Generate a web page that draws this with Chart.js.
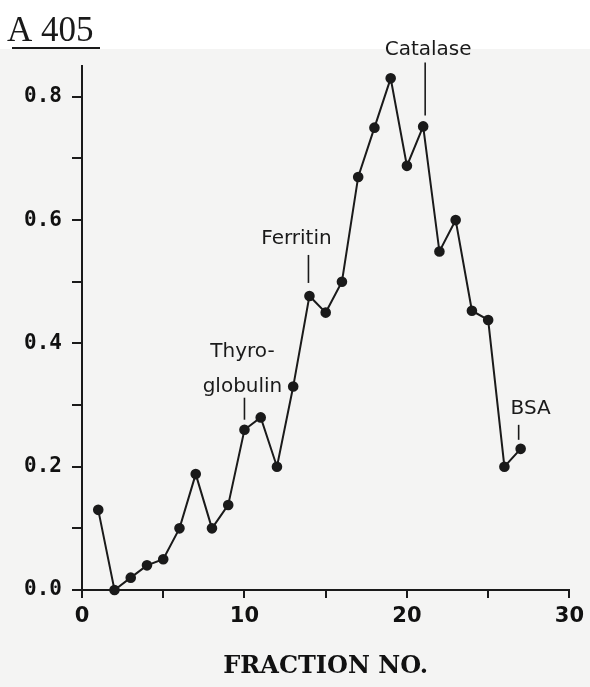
<!DOCTYPE html>
<html><head><meta charset="utf-8">
<script src="https://cdn.jsdelivr.net/npm/chart.js@4/dist/chart.umd.min.js"></script>
<style>html,body{margin:0;padding:0;background:#fff}#wrap{width:590px;height:687px;position:relative}</style>
</head><body><div id="wrap"><canvas id="c"></canvas></div>
<script>
// ---- data ----
const fractions  = [1,2,3,4,5,6,7,8,9,10,11,12,13,14,15,16,17,18,19,20,21,22,23,24,25,26,27];
const absorbance = [0.13,0.00,0.02,0.04,0.05,0.10,0.188,0.10,0.138,0.26,0.28,0.20,0.33,0.477,0.45,0.50,0.67,0.75,0.83,0.688,0.752,0.549,0.60,0.453,0.438,0.20,0.229];
const xTickValues = [0,5,10,15,20,25,30];
const xTickLabels = ['0','','10','','20','','30'];
const yTickValues = [0,0.1,0.2,0.3,0.4,0.5,0.6,0.7,0.8];
const yTickLabels = ['0.0','','0.2','','0.4','','0.6','','0.8'];
const markerNames = [['Thyro-','globulin'],['Ferritin'],['Catalase'],['BSA']];
const markerFractions = [10,14,21,27];
const yTitle = 'A 405';
const xTitle = 'FRACTION NO.';

// ---- styling for marker labels (offsets in px) ----
const markerStyle = [
  {dx:0,  gap:10, len:22, textDx:-2, textDy:-43, lineH:35},
  {dx:-1, gap:13, len:28, textDx:-13, textDy:-57, lineH:0},
  {dx:2,  gap:11, len:53, textDx:5,  textDy:-77, lineH:0},
  {dx:-2, gap:9,  len:15, textDx:10, textDy:-40, lineH:0}
];

const points = fractions.map((f,i)=>({x:f,y:absorbance[i]}));

const bgPlugin = {
  id:'bg',
  beforeDraw(chart){
    const ctx=chart.ctx;
    ctx.save();
    ctx.fillStyle='#ffffff';
    ctx.fillRect(0,0,chart.width,chart.height);
    ctx.fillStyle='#f4f4f3';
    ctx.fillRect(0,49,chart.width,chart.height-49);
    ctx.restore();
  }
};

const decoPlugin = {
  id:'deco',
  afterDraw(chart){
    const ctx=chart.ctx, xs=chart.scales.x, ys=chart.scales.y;
    ctx.save();
    // title "A 405" underlined
    ctx.fillStyle='#1a1a1a';
    ctx.font='35px "Liberation Serif"';
    ctx.textBaseline='alphabetic';
    ctx.textAlign='left';
    ctx.fillText(yTitle,7,41);
    ctx.strokeStyle='#1a1a1a';
    ctx.lineWidth=2;
    ctx.beginPath();ctx.moveTo(12,48);ctx.lineTo(100,48);ctx.stroke();
    // marker annotations
    ctx.font='20px "DejaVu Sans"';
    ctx.textAlign='center';
    ctx.textBaseline='middle';
    ctx.lineWidth=1.6;
    markerFractions.forEach((f,k)=>{
      const idx=fractions.indexOf(f);
      const st=markerStyle[k];
      const px=xs.getPixelForValue(f), py=ys.getPixelForValue(absorbance[idx]);
      ctx.beginPath();
      ctx.moveTo(px+st.dx,py-st.gap);
      ctx.lineTo(px+st.dx,py-st.gap-st.len);
      ctx.stroke();
      const lines=markerNames[k];
      const startY = py+st.textDy-(lines.length-1)*st.lineH;
      lines.forEach((t,j)=>{
        ctx.fillText(t,px+st.textDx,startY+j*st.lineH);
      });
    });
    ctx.restore();
  }
};

new Chart(document.getElementById('c'),{
  type:'scatter',
  data:{datasets:[{
    data:points,
    showLine:true,
    borderColor:'#1a1a1a',
    backgroundColor:'#1a1a1a',
    borderWidth:2,
    pointRadius:4.3,
    pointHoverRadius:4.3,
    clip:false
  }]},
  options:{
    responsive:true,
    maintainAspectRatio:false,
    animation:false,
    events:[],
    layout:{padding:{top:66,right:20,left:0,bottom:0}},
    plugins:{legend:{display:false},tooltip:{enabled:false}},
    scales:{
      x:{
        type:'linear',min:0,max:30,
        afterBuildTicks(s){s.ticks=xTickValues.map(v=>({value:v}));},
        afterFit(s){s.height=97;},
        ticks:{
          autoSkip:false,maxRotation:0,padding:6,color:'#111',
          font:{family:'"DejaVu Sans"',size:21,weight:'bold'},
          callback:(v)=>{const i=xTickValues.indexOf(v);return i>=0?xTickLabels[i]:'';}
        },
        grid:{drawOnChartArea:false,drawTicks:true,tickLength:8,color:'#1a1a1a',lineWidth:2},
        border:{display:true,color:'#1a1a1a',width:2},
        title:{display:true,text:xTitle,color:'#111',
          font:{family:'"DejaVu Serif"',size:24,weight:'bold'},
          padding:{top:10,bottom:6}}
      },
      y:{
        type:'linear',min:0,max:0.85,
        afterBuildTicks(s){s.ticks=yTickValues.map(v=>({value:v}));},
        afterFit(s){s.width=82;},
        ticks:{
          autoSkip:false,padding:10,color:'#111',
          font:{family:'"DejaVu Sans Mono"',size:21,weight:'bold'},
          callback:(v)=>{const i=yTickValues.findIndex(t=>Math.abs(t-v)<1e-9);return i>=0?yTickLabels[i]:'';}
        },
        grid:{drawOnChartArea:false,drawTicks:true,tickLength:10,color:'#1a1a1a',lineWidth:2},
        border:{display:true,color:'#1a1a1a',width:2}
      }
    }
  },
  plugins:[bgPlugin,decoPlugin]
});
</script>
</body></html>
